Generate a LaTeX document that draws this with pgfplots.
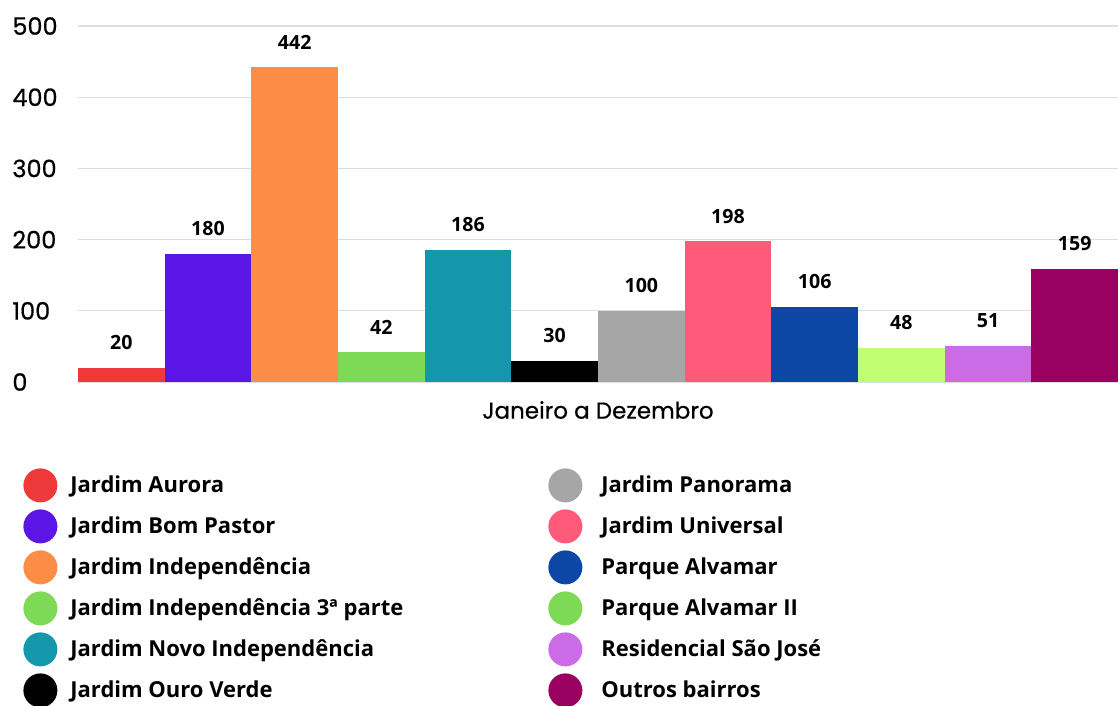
\documentclass[border=0pt]{standalone}
\usepackage{fontspec}
\setmainfont{Open Sans}
\newfontfamily\pop{Poppins}[FakeBold=0.6]
\usepackage{pgfplots}
\pgfplotsset{compat=1.18}
\definecolor{c1}{HTML}{EE3A3A}
\definecolor{c2}{HTML}{5B16E6}
\definecolor{c3}{HTML}{FB8D47}
\definecolor{c4}{HTML}{7ED957}
\definecolor{c5}{HTML}{1497AA}
\definecolor{c6}{HTML}{000000}
\definecolor{c7}{HTML}{A6A6A6}
\definecolor{c8}{HTML}{FF5A79}
\definecolor{c9}{HTML}{0C47A6}
\definecolor{c10}{HTML}{C1FF72}
\definecolor{c10leg}{HTML}{7ED957}
\definecolor{c11}{HTML}{CB6CE6}
\definecolor{c12}{HTML}{99005F}
\pgfplotsset{leg/.style={legend image code/.code={\fill[##1] (8.5pt,0pt) circle (8.5pt);}}}

\begin{document}
\begin{tikzpicture}
\useasboundingbox (-39pt,-162pt) rectangle (520pt,191pt);
\begin{axis}[
    at={(0,0)}, anchor=south west,
    scale only axis, width=520pt, height=178pt,
    xmin=-0.5, xmax=11.5, ymin=0, ymax=500,
    ybar, bar width=1, bar shift=0pt,
    ytick={0,100,200,300,400,500}, xtick=\empty,
    ymajorgrids, grid style={draw=black!13, line width=0.6pt},
    axis line style={draw=none}, major tick length=0pt,
    /pgf/number format/assume math mode=true,
    yticklabel style={font=\pop\fontsize{12}{12}\selectfont, anchor=west, xshift=-33pt, inner sep=0pt},
    xlabel={Janeiro a Dezembro},
    xlabel style={font=\pop\fontsize{11.5}{12}\selectfont, at={(axis description cs:0.5,0)}, anchor=center, yshift=-14pt},
    nodes near coords,
    nodes near coords style={font=\bfseries\fontsize{9.8}{10}\selectfont, anchor=center, yshift=12.5pt, text=black},
    legend columns=6, transpose legend, legend cell align=left,
    legend style={at={(axis description cs:0,0)}, anchor=north west, xshift=-27.5pt, yshift=-43pt,
        draw=none, fill=none, inner sep=0pt, row sep=3.5pt, nodes={inner sep=0.5pt},
        font=\bfseries\fontsize{11}{12}\selectfont,
        /tikz/column 1/.style={column sep=6pt},
        /tikz/column 2/.style={column sep=72pt},
        /tikz/column 3/.style={column sep=9pt}},
]
\addplot[draw=none, fill=c1, leg] coordinates {(0,20)};
\addlegendentry{Jardim Aurora}
\addplot[draw=none, fill=c2, leg] coordinates {(1,180)};
\addlegendentry{Jardim Bom Pastor}
\addplot[draw=none, fill=c3, leg] coordinates {(2,442)};
\addlegendentry{Jardim Independência}
\addplot[draw=none, fill=c4, leg] coordinates {(3,42)};
\addlegendentry{Jardim Independência 3ª parte}
\addplot[draw=none, fill=c5, leg] coordinates {(4,186)};
\addlegendentry{Jardim Novo Independência}
\addplot[draw=none, fill=c6, leg] coordinates {(5,30)};
\addlegendentry{Jardim Ouro Verde}
\addplot[draw=none, fill=c7, leg] coordinates {(6,100)};
\addlegendentry{Jardim Panorama}
\addplot[draw=none, fill=c8, leg] coordinates {(7,198)};
\addlegendentry{Jardim Universal}
\addplot[draw=none, fill=c9, leg] coordinates {(8,106)};
\addlegendentry{Parque Alvamar}
\addplot[draw=none, fill=c10, legend image code/.code={\fill[c10leg] (8.5pt,0pt) circle (8.5pt);}] coordinates {(9,48)};
\addlegendentry{Parque Alvamar II}
\addplot[draw=none, fill=c11, leg] coordinates {(10,51)};
\addlegendentry{Residencial São José}
\addplot[draw=none, fill=c12, leg] coordinates {(11,159)};
\addlegendentry{Outros bairros}
\end{axis}
\end{tikzpicture}
\end{document}
